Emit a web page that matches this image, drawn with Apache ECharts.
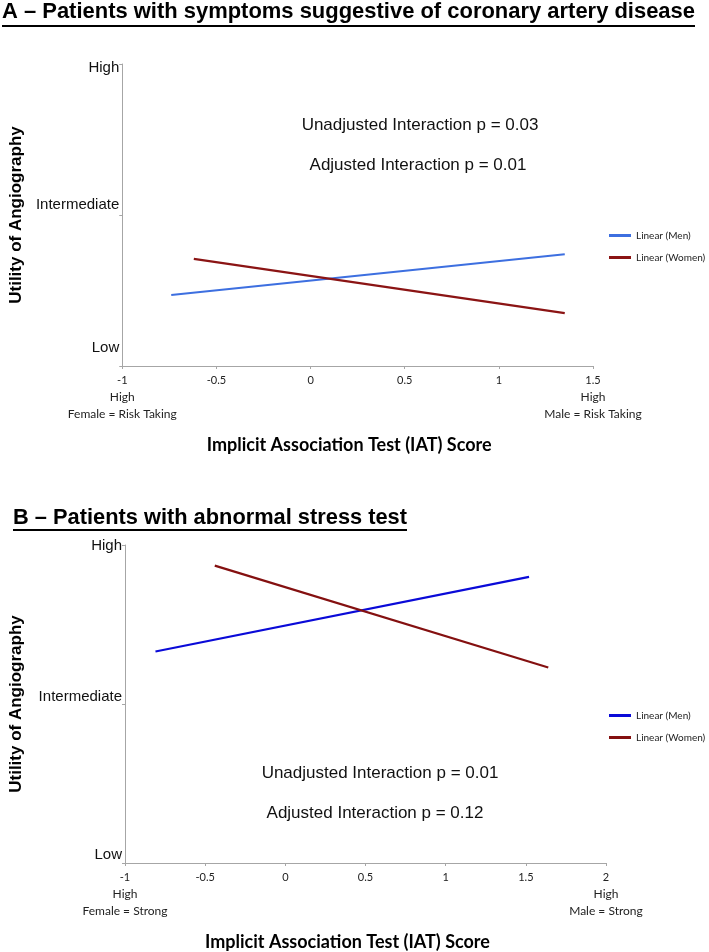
<!DOCTYPE html>
<html>
<head>
<meta charset="utf-8">
<script src="https://cdn.jsdelivr.net/npm/echarts@6/dist/echarts.min.js"></script>
<style>
html, body { margin: 0; padding: 0; background: #fff; }
#chart { width: 709px; height: 952px; }
</style>
</head>
<body>
<div id="chart"></div>
<script>
// y levels (shared by both panels)
const yLevels = ['Low', 'Intermediate', 'High'];
const legendNames = ['Linear (Men)', 'Linear (Women)'];

// panel A - symptoms suggestive of CAD
const titleA = 'A \u2013 Patients with symptoms suggestive of coronary artery disease';
const xMinA = -1, xMaxA = 1.5;
const menAx = [-0.74, 1.35];
const menAy = [0.47, 0.74];
const womenAx = [-0.62, 1.35];
const womenAy = [0.71, 0.35];
const edgeA = ['Female = Risk Taking', 'Male = Risk Taking'];
const notesA = ['Unadjusted Interaction p = 0.03', 'Adjusted Interaction p = 0.01'];

// panel B - abnormal stress test
const titleB = 'B \u2013 Patients with abnormal stress test';
const xMinB = -1, xMaxB = 2;
const menBx = [-0.81, 1.52];
const menBy = [1.33, 1.80];
const womenBx = [-0.44, 1.64];
const womenBy = [1.87, 1.23];
const edgeB = ['Female = Strong', 'Male = Strong'];
const notesB = ['Unadjusted Interaction p = 0.01', 'Adjusted Interaction p = 0.12'];

const colors = {
    menA: '#3d6fe0',
    womenA: '#8b1414',
    menB: '#0a0ad8',
    womenB: '#841010'
};

function pts(xs, ys) {
    return xs.map((x, i) => [x, ys[i]]);
}

// fit a bold condensed title to a width using scaleX
const titleFont = 'bold 22px "Liberation Sans Narrow", "Liberation Sans", Arial, sans-serif';
function fitScale(text, target) {
    const ctx = document.createElement('canvas').getContext('2d');
    ctx.font = titleFont;
    return target / ctx.measureText(text).width;
}

const axisGray = '#a6a6a6';
const sansFont = '"Liberation Sans", Arial, sans-serif';
const smallFont = 'Lato, "Open Sans", sans-serif';

function makeX(idx, min, max, edges, shift) {
    return {
        type: 'value',
        gridIndex: idx,
        min: min,
        max: max,
        interval: 0.5,
        splitLine: { show: false },
        axisLine: { onZero: false, lineStyle: { color: axisGray } },
        axisTick: { length: 3, lineStyle: { color: axisGray } },
        axisLabel: {
            margin: 6,
            showMinLabel: true,
            showMaxLabel: true,
            color: '#222',
            fontFamily: smallFont,
            fontSize: 11,
            lineHeight: 17,
            formatter: function (v) {
                if (v === min) return v + '\n{s|High}\n{s|' + edges[0] + '}';
                if (v === max) return v + '\n{s|High}\n{s|' + edges[1] + '}';
                return String(v);
            },
            rich: {
                s: { fontFamily: smallFont, fontSize: 12, lineHeight: 17, color: '#222' }
            }
        },
        name: 'Implicit Association Test (IAT) Score',
        nameLocation: 'middle',
        nameGap: 70,
        nameTextStyle: {
            fontFamily: smallFont,
            fontWeight: 'bold',
            fontSize: 18,
            color: '#000',
            padding: [0, shift, 0, 0]
        }
    };
}

function makeY(idx, gap, pads) {
    return {
        type: 'value',
        gridIndex: idx,
        min: 0,
        max: 2,
        interval: 1,
        splitLine: { show: false },
        axisLine: { show: true, onZero: false, lineStyle: { color: axisGray } },
        axisTick: { show: true, length: 3, lineStyle: { color: axisGray } },
        axisLabel: {
            margin: 3,
            formatter: function (v) {
                return '{l' + v + '|' + yLevels[v] + '}';
            },
            rich: {
                l0: { fontFamily: sansFont, fontSize: 15, color: '#111', padding: pads[0] },
                l1: { fontFamily: sansFont, fontSize: 15, color: '#111', padding: pads[1] },
                l2: { fontFamily: sansFont, fontSize: 15, color: '#111', padding: pads[2] }
            }
        },
        name: 'Utility of Angiography',
        nameLocation: 'middle',
        nameGap: gap,
        nameTextStyle: {
            fontFamily: sansFont,
            fontWeight: 'bold',
            fontSize: 17,
            color: '#000'
        }
    };
}

function makeLegend(top, menColor, womenColor) {
    return {
        orient: 'vertical',
        left: 609,
        top: top,
        padding: 0,
        itemGap: 9,
        itemWidth: 22,
        itemHeight: 3,
        icon: 'rect',
        selectedMode: false,
        textStyle: { fontFamily: smallFont, fontSize: 10, color: '#222', lineHeight: 13, overflow: 'none' },
        data: [
            { name: legendNames[0], itemStyle: { color: menColor } },
            { name: legendNames[1], itemStyle: { color: womenColor } }
        ]
    };
}

function line(name, xIdx, data, color) {
    return {
        name: name,
        type: 'line',
        xAxisIndex: xIdx,
        yAxisIndex: xIdx,
        data: data,
        showSymbol: false,
        symbol: 'none',
        silent: true,
        lineStyle: { color: color, width: 2.2 },
        itemStyle: { color: color }
    };
}

function noteText(text, x, y) {
    return {
        type: 'text',
        x: x,
        y: y,
        style: {
            text: text,
            font: '17px ' + sansFont,
            fill: '#111',
            align: 'center',
            verticalAlign: 'middle'
        }
    };
}

function titleGraphic(text, x, y, width, lineY, lineH) {
    const sx = fitScale(text, width);
    return [
        {
            type: 'text',
            x: x,
            y: y,
            scaleX: sx,
            style: {
                text: text,
                font: titleFont,
                fill: '#000',
                align: 'left',
                verticalAlign: 'middle'
            }
        },
        {
            type: 'rect',
            shape: { x: x, y: lineY, width: width, height: lineH },
            style: { fill: '#000' }
        }
    ];
}

let myChart = echarts.init(document.getElementById('chart'), null, { renderer: 'canvas' });

let option = {
    backgroundColor: '#fff',
    animation: false,
    grid: [
        { left: 120, right: 116, top: 64, bottom: 586 },
        { left: 122, right: 103, top: 545, bottom: 75 }
    ],
    xAxis: [
        makeX(0, xMinA, xMaxA, edgeA, 17),
        makeX(1, xMinB, xMaxB, edgeB, 36)
    ],
    yAxis: [
        makeY(0, 96, [[0, 0, 36, 0], [0, 0, 20, 0], [8, 0, 0, 0]]),
        makeY(1, 100, [[0, 0, 16, 0], [0, 0, 14, 0], [2, 0, 0, 0]])
    ],
    legend: [
        makeLegend(229, colors.menA, colors.womenA),
        makeLegend(709, colors.menB, colors.womenB)
    ],
    series: [
        line(legendNames[0], 0, pts(menAx, menAy), colors.menA),
        line(legendNames[1], 0, pts(womenAx, womenAy), colors.womenA),
        line(legendNames[0], 1, pts(menBx, menBy), colors.menB),
        line(legendNames[1], 1, pts(womenBx, womenBy), colors.womenB)
    ],
    graphic: [
        ...titleGraphic(titleA, 2, 12, 693, 25, 2),
        ...titleGraphic(titleB, 13, 518, 394, 529, 2),
        noteText(notesA[0], 420, 125),
        noteText(notesA[1], 418, 165),
        noteText(notesB[0], 380, 773),
        noteText(notesB[1], 375, 813)
    ]
};

myChart.setOption(option);
</script>
</body>
</html>
